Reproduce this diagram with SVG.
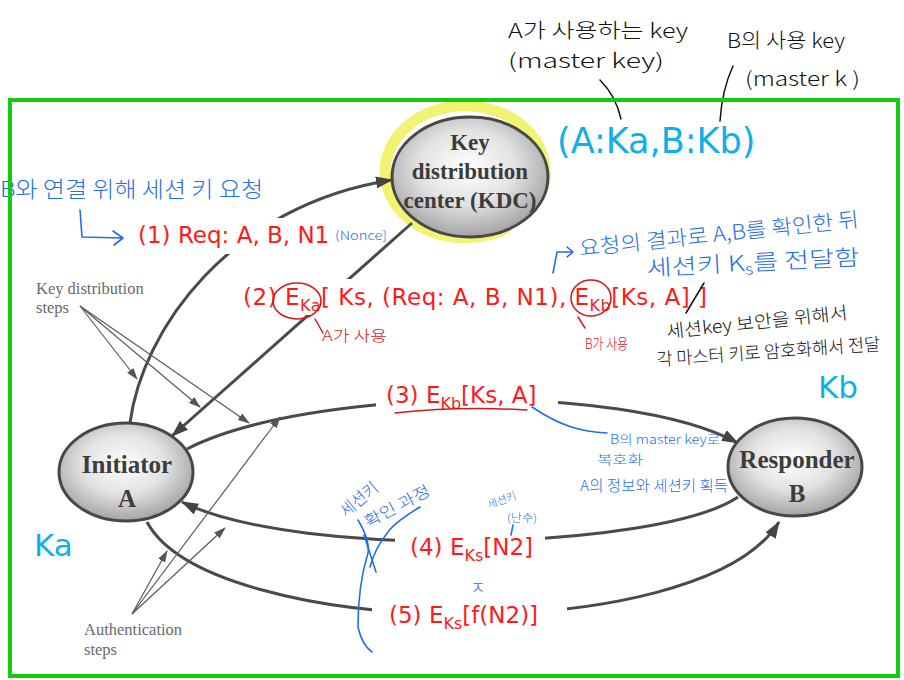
<svg xmlns="http://www.w3.org/2000/svg" width="904" height="680" viewBox="0 0 904 680">
<style>
.node{stroke:#474747;stroke-width:3;fill:url(#ng)}
.ntx{font-family:"Liberation Serif",serif;font-weight:bold;fill:#3c3c3c;text-anchor:middle}
.conn{fill:none;stroke:#4a4a4a;stroke-width:3}
.ptr{fill:none;stroke:#5a5a5a;stroke-width:1.2}
.lab{font-family:"DejaVu Sans",Verdana,sans-serif;font-size:23px;fill:#ff1a1a}
.sub{font-size:16px}
.note{font-family:"Liberation Serif",serif;font-size:16.5px;fill:#6a6a6a}
.hw{font-family:"Noto Sans CJK KR","Noto Sans",sans-serif;font-weight:300}
.blue{fill:#1f6fe8}
.blk{fill:#111}
.red{fill:#e01818}
.cyan{font-family:"DejaVu Sans",Verdana,sans-serif;fill:#10aeea}
.bl{fill:none;stroke:#1f6fe8;stroke-width:1.6;stroke-linecap:round;stroke-linejoin:round}
.rl{fill:none;stroke:#d81818;stroke-width:1.5;stroke-linecap:round}
.kl{fill:none;stroke:#111;stroke-width:1.5;stroke-linecap:round}
.bg{fill:#fff}
</style>
<defs>
<radialGradient id="ng" cx="48%" cy="42%" r="62%">
<stop offset="0" stop-color="#ffffff"/>
<stop offset="0.5" stop-color="#e2e2e2"/>
<stop offset="1" stop-color="#9a9a9a"/>
</radialGradient>
<marker id="ah" markerUnits="userSpaceOnUse" markerWidth="18" markerHeight="12" refX="16" refY="6" orient="auto">
<path d="M0,0 L17,6 L0,12 z" fill="#444"/>
</marker>
<marker id="sh" markerUnits="userSpaceOnUse" markerWidth="12" markerHeight="8" refX="11" refY="4" orient="auto">
<path d="M0,0 L12,4 L0,8 z" fill="#555"/>
</marker>
</defs>
<rect width="904" height="680" fill="#fff"/>

<!-- highlight -->
<path d="M505,229 A80,66 0 1 1 540,195" fill="none" stroke="#eeee44" stroke-opacity="0.75" stroke-width="11" stroke-linecap="round"/>

<g id="connectors">
<path class="conn" d="M130,423 C142,330 230,205 392,180" marker-end="url(#ah)"/>
<path class="conn" d="M412,223 L172,436" marker-end="url(#ah)"/>
<path class="conn" d="M187,449 C300,390 620,380 738,443" marker-end="url(#ah)"/>
<path class="conn" d="M738,497 C660,550 300,560 182,502" marker-end="url(#ah)"/>
<path class="conn" d="M147,522 C210,640 700,650 779,522" marker-end="url(#ah)"/>
<path class="ptr" d="M80,306 L137,379" marker-end="url(#sh)"/>
<path class="ptr" d="M80,306 L200,407" marker-end="url(#sh)"/>
<path class="ptr" d="M80,306 L249,423" marker-end="url(#sh)"/>
<path class="ptr" d="M132,614 L167,551" marker-end="url(#sh)"/>
<path class="ptr" d="M132,614 L225,528" marker-end="url(#sh)"/>
<path class="ptr" d="M132,614 L280,417" marker-end="url(#sh)"/>
</g>

<g id="kdc">
<ellipse class="node" cx="470" cy="177" rx="78" ry="60"/>
<text class="ntx" x="470" y="150" font-size="23">Key</text>
<text class="ntx" x="470" y="179" font-size="23">distribution</text>
<text class="ntx" x="470" y="208" font-size="23">center (KDC)</text>
</g>
<g id="initiator">
<ellipse class="node" cx="126" cy="472" rx="67" ry="49"/>
<text class="ntx" x="127" y="473" font-size="25">Initiator</text>
<text class="ntx" x="127" y="507" font-size="25">A</text>
</g>
<g id="responder">
<ellipse class="node" cx="795" cy="467" rx="67" ry="49"/>
<text class="ntx" x="797" y="468" font-size="25">Responder</text>
<text class="ntx" x="797" y="502" font-size="25">B</text>
</g>

<g id="labels">
<rect class="bg" x="134" y="218" width="204" height="36"/>
<text class="lab" x="138" y="243">(1) Req: A, B, N1</text>
<rect class="bg" x="238" y="279" width="474" height="36"/>
<text class="lab" x="243" y="305" textLength="464" lengthAdjust="spacing">(2) E<tspan class="sub" dy="6">Ka</tspan><tspan dy="-6">[ Ks, (Req: A, B, N1), E</tspan><tspan class="sub" dy="6">Kb</tspan><tspan dy="-6">[Ks, A] ]</tspan></text>
<rect class="bg" x="376" y="380" width="182" height="30"/>
<text class="lab" x="386" y="403">(3) E<tspan class="sub" dy="6">Kb</tspan><tspan dy="-6">[Ks, A]</tspan></text>
<rect class="bg" x="395" y="530" width="150" height="32"/>
<text class="lab" x="410" y="555">(4) E<tspan class="sub" dy="6">Ks</tspan><tspan dy="-6">[N2]</tspan></text>
<rect class="bg" x="372" y="598" width="195" height="34"/>
<text class="lab" x="389" y="623">(5) E<tspan class="sub" dy="6">Ks</tspan><tspan dy="-6">[f(N2)]</tspan></text>
<text class="note" x="36" y="294">Key distribution</text>
<text class="note" x="36" y="313">steps</text>
<text class="note" x="84" y="635">Authentication</text>
<text class="note" x="84" y="655">steps</text>
</g>

<g id="annotations">
<text class="cyan" x="557" y="153" font-size="35">(A:Ka,B:Kb)</text>
<text class="cyan" x="34" y="556" font-size="31">Ka</text>
<text class="cyan" x="818" y="398" font-size="31">Kb</text>

<text class="hw blk" x="508" y="38" font-size="20" textLength="180" lengthAdjust="spacingAndGlyphs">A가 사용하는 key</text>
<text class="hw blk" x="508" y="68" font-size="20" textLength="156" lengthAdjust="spacingAndGlyphs">(master key)</text>
<text class="hw blk" x="727" y="48" font-size="20" textLength="118" lengthAdjust="spacingAndGlyphs">B의 사용 key</text>
<text class="hw blk" x="745" y="86" font-size="20" textLength="115" lengthAdjust="spacingAndGlyphs">(master k )</text>
<path class="kl" d="M600,80 Q616,96 621,119"/>
<path class="kl" d="M733,66 Q722,90 720,121"/>

<text class="hw blue" x="0" y="197" font-size="22" textLength="263" lengthAdjust="spacingAndGlyphs">B와 연결 위해 세션 키 요청</text>
<path class="bl" d="M80,210 L82,237 L122,238 M113,231 L123,238 L114,245"/>
<text class="hw blue" x="335" y="240" font-size="12" textLength="52" lengthAdjust="spacingAndGlyphs">(Nonce]</text>

<text class="hw blue" x="580" y="256" font-size="21" textLength="281" lengthAdjust="spacingAndGlyphs" transform="rotate(-6 580 256)">요청의 결과로 A,B를 확인한 뒤</text>
<text class="hw blue" x="647" y="276" font-size="22" textLength="213" lengthAdjust="spacingAndGlyphs" transform="rotate(-3 647 276)">세션키 K<tspan font-size="15" dy="4">s</tspan><tspan dy="-4">를 전달함</tspan></text>
<path class="bl" d="M553,273 L557,252 L572,252 M567,247 L573,252 L567,257"/>

<ellipse cx="297" cy="301" rx="24" ry="18" fill="none" stroke="#d81818" stroke-width="1.6"/>
<ellipse cx="591" cy="298" rx="20" ry="18" fill="none" stroke="#d81818" stroke-width="1.6"/>
<path class="rl" d="M315,319 L323,333"/>
<path class="rl" d="M578,317 L585,328"/>
<text class="hw red" x="322" y="341" font-size="15" textLength="65" lengthAdjust="spacingAndGlyphs">A가 사용</text>
<text class="hw red" x="585" y="349" font-size="15" textLength="43" lengthAdjust="spacingAndGlyphs">B가 사용</text>

<path class="kl" d="M704,283 L686,313"/>
<text class="hw blk" x="667" y="338" font-size="18" textLength="182" lengthAdjust="spacingAndGlyphs" transform="rotate(-6 667 338)">세션key 보안을 위해서</text>
<text class="hw blk" x="657" y="366" font-size="18" textLength="224" lengthAdjust="spacingAndGlyphs" transform="rotate(-4 657 366)">각 마스터 키로 암호화해서 전달</text>

<path class="rl" d="M395,413 Q460,406 527,410"/>
<path class="bl" d="M532,407 C560,426 582,432 607,433"/>
<text class="hw blue" x="610" y="444" font-size="13" textLength="110" lengthAdjust="spacingAndGlyphs">B의 master key로</text>
<text class="hw blue" x="597" y="464" font-size="13" textLength="46" lengthAdjust="spacingAndGlyphs">복호화</text>
<text class="hw blue" x="580" y="491" font-size="15" textLength="148" lengthAdjust="spacingAndGlyphs">A의 정보와 세션키 획득</text>

<text class="hw blue" x="346" y="518" font-size="17" textLength="44" lengthAdjust="spacingAndGlyphs" transform="rotate(-40 346 518)">세션키</text>
<text class="hw blue" x="368" y="528" font-size="16" textLength="72" lengthAdjust="spacingAndGlyphs" transform="rotate(-28 368 528)">확인 과정</text>
<path class="bl" d="M420,507 Q395,522 388,532 Q375,548 370,567"/>
<path class="bl" d="M358,520 Q370,540 368,553 Q358,585 358,627 Q362,645 372,652"/>
<path class="bl" d="M364,535 L376,572"/>
<text class="hw blue" x="489" y="509" font-size="11" textLength="30" lengthAdjust="spacingAndGlyphs" transform="rotate(-20 489 509)">세션키</text>
<text class="hw blue" x="507" y="522" font-size="11" textLength="30" lengthAdjust="spacingAndGlyphs">(난수)</text>
<path class="bl" d="M513,525 L511,535"/>
<text class="hw blue" x="470" y="594" font-size="17">ㅈ</text>
</g>

<rect x="10" y="100" width="888" height="576" fill="none" stroke="#11cc11" stroke-width="4"/>
</svg>
